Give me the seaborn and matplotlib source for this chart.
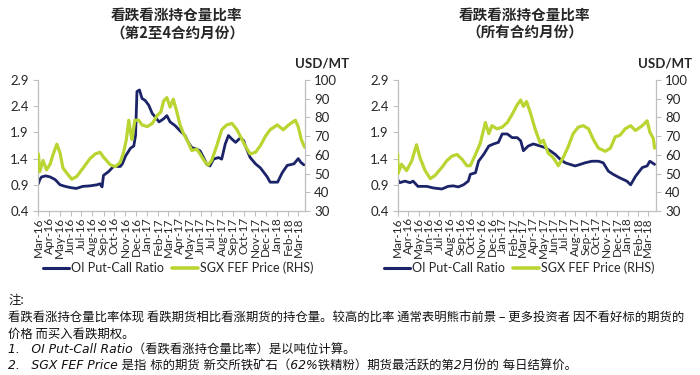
import matplotlib
matplotlib.use("Agg")
import matplotlib.pyplot as plt
from matplotlib.lines import Line2D
import seaborn as sns
import pandas as pd

sns.set_style("white")
plt.rcParams['font.family'] = ['Lato', 'Noto Sans CJK SC', 'DejaVu Sans']

# ---------------- data ----------------
left_ratio_dates = ["2016-03-02", "2016-03-06", "2016-03-11", "2016-03-23", "2016-04-04", "2016-04-18",
                    "2016-05-02", "2016-05-16", "2016-05-29", "2016-06-16", "2016-07-05", "2016-07-25",
                    "2016-08-14", "2016-08-22", "2016-08-28", "2016-09-01", "2016-09-15", "2016-09-29",
                    "2016-10-18", "2016-10-24", "2016-11-02", "2016-11-16", "2016-11-25", "2016-11-30",
                    "2016-12-04", "2016-12-11", "2016-12-18", "2016-12-27", "2017-01-06", "2017-01-16",
                    "2017-01-25", "2017-02-04", "2017-02-17", "2017-02-26", "2017-03-07", "2017-03-21",
                    "2017-04-04", "2017-04-18", "2017-04-27", "2017-05-07", "2017-05-21", "2017-05-30",
                    "2017-06-09", "2017-06-18", "2017-06-27", "2017-07-07", "2017-07-21", "2017-07-30",
                    "2017-08-09", "2017-08-18", "2017-08-28", "2017-09-07", "2017-09-21", "2017-09-30",
                    "2017-10-04", "2017-10-18", "2017-11-02", "2017-11-16", "2017-12-05", "2017-12-13",
                    "2018-01-03", "2018-01-16", "2018-01-30", "2018-02-18", "2018-03-02", "2018-03-09",
                    "2018-03-18"]
left_ratio = [0.92, 1.00, 1.05, 1.07, 1.05, 1.00,
              0.90, 0.87, 0.85, 0.83, 0.87, 0.88,
              0.90, 0.92, 0.86, 1.08, 1.15, 1.25,
              1.25, 1.30, 1.45, 1.60, 1.64, 1.84,
              2.68, 2.71, 2.55, 2.51, 2.42, 2.26,
              2.19, 2.10, 2.16, 2.22, 2.10, 2.03,
              1.93, 1.84, 1.71, 1.61, 1.58, 1.55,
              1.42, 1.29, 1.26, 1.39, 1.42, 1.39,
              1.68, 1.84, 1.77, 1.71, 1.80, 1.74,
              1.65, 1.42, 1.30, 1.22, 1.05, 0.95,
              0.95, 1.13, 1.27, 1.30, 1.40, 1.33,
              1.28]

left_price_dates = ["2016-03-02", "2016-03-06", "2016-03-15", "2016-03-25", "2016-04-04", "2016-04-12",
                    "2016-04-23", "2016-05-02", "2016-05-10", "2016-05-24", "2016-06-04", "2016-06-18",
                    "2016-07-05", "2016-07-25", "2016-08-09", "2016-08-22", "2016-09-01", "2016-09-20",
                    "2016-10-04", "2016-10-18", "2016-10-27", "2016-11-04", "2016-11-11", "2016-11-16",
                    "2016-11-20", "2016-11-28", "2016-12-09", "2016-12-18", "2017-01-02", "2017-01-16",
                    "2017-01-30", "2017-02-09", "2017-02-17", "2017-02-26", "2017-03-07", "2017-03-16",
                    "2017-03-25", "2017-04-04", "2017-04-13", "2017-04-27", "2017-05-07", "2017-05-21",
                    "2017-05-30", "2017-06-13", "2017-06-22", "2017-07-02", "2017-07-16", "2017-07-30",
                    "2017-08-13", "2017-08-28", "2017-09-11", "2017-09-25", "2017-10-04", "2017-10-18",
                    "2017-11-02", "2017-11-16", "2017-11-30", "2017-12-13", "2018-01-02", "2018-01-19",
                    "2018-02-03", "2018-02-22", "2018-03-02", "2018-03-11", "2018-03-20"]
left_price = [60.5, 51.0, 57.0, 52.0, 55.0, 60.0,
              65.7, 61.0, 53.0, 49.5, 47.0, 48.5,
              52.8, 58.0, 60.5, 61.4, 58.8, 54.7,
              53.7, 56.0, 61.0, 68.0, 78.5, 72.0,
              68.2, 78.5, 78.5, 76.0, 75.1, 76.8,
              81.1, 82.9, 88.8, 90.6, 85.5, 89.7,
              83.7, 76.0, 71.7, 66.6, 62.3, 63.1,
              60.5, 56.2, 54.5, 57.1, 64.8, 73.4,
              76.0, 76.8, 73.4, 68.2, 64.8, 60.5,
              61.4, 65.0, 70.0, 73.4, 76.0, 73.4,
              76.0, 78.5, 75.0, 68.0, 64.0]

right_ratio_dates = ["2016-03-01", "2016-03-07", "2016-03-22", "2016-04-06", "2016-04-15", "2016-04-29",
                     "2016-05-25", "2016-06-13", "2016-07-08", "2016-07-26", "2016-08-10", "2016-08-25",
                     "2016-09-09", "2016-09-23", "2016-09-29", "2016-10-14", "2016-10-23", "2016-11-07",
                     "2016-11-22", "2016-12-06", "2016-12-20", "2016-12-31", "2017-01-15", "2017-01-29",
                     "2017-02-13", "2017-02-23", "2017-03-03", "2017-03-17", "2017-04-01", "2017-04-21",
                     "2017-05-05", "2017-05-20", "2017-06-04", "2017-06-18", "2017-07-03", "2017-07-17",
                     "2017-08-01", "2017-08-16", "2017-08-30", "2017-09-19", "2017-10-08", "2017-10-22",
                     "2017-11-06", "2017-11-20", "2017-12-10", "2017-12-30", "2018-01-10", "2018-01-24",
                     "2018-02-13", "2018-02-27", "2018-03-07", "2018-03-21"]
right_ratio = [1.00, 0.94, 0.97, 0.94, 0.97, 0.87,
               0.87, 0.84, 0.82, 0.87, 0.88, 0.86,
               0.90, 0.97, 1.10, 1.13, 1.35, 1.48,
               1.64, 1.68, 1.71, 1.87, 1.87, 1.80,
               1.80, 1.74, 1.55, 1.64, 1.68, 1.64,
               1.61, 1.55, 1.48, 1.39, 1.32, 1.29,
               1.26, 1.29, 1.32, 1.35, 1.35, 1.32,
               1.16, 1.10, 1.03, 0.97, 0.90, 1.06,
               1.23, 1.26, 1.35, 1.29]

right_price_dates = ["2016-03-01", "2016-03-02", "2016-03-12", "2016-03-27", "2016-04-11", "2016-04-25",
                     "2016-05-05", "2016-05-20", "2016-06-04", "2016-06-18", "2016-07-08", "2016-07-22",
                     "2016-08-06", "2016-08-21", "2016-09-05", "2016-09-19", "2016-09-29", "2016-10-14",
                     "2016-10-28", "2016-11-12", "2016-11-22", "2016-12-01", "2016-12-16", "2016-12-31",
                     "2017-01-15", "2017-01-29", "2017-02-13", "2017-02-23", "2017-03-03", "2017-03-12",
                     "2017-03-22", "2017-04-06", "2017-04-21", "2017-04-30", "2017-05-14", "2017-05-29",
                     "2017-06-13", "2017-06-27", "2017-07-12", "2017-07-26", "2017-08-10", "2017-08-25",
                     "2017-09-09", "2017-09-24", "2017-10-08", "2017-10-28", "2017-11-12", "2017-11-26",
                     "2017-12-10", "2017-12-25", "2018-01-10", "2018-01-24", "2018-02-13", "2018-02-27",
                     "2018-03-07", "2018-03-17", "2018-03-21"]
right_price = [60.2, 50.0, 55.0, 51.6, 56.8, 65.4,
               58.5, 51.6, 47.3, 49.0, 53.3, 56.8,
               59.3, 60.2, 57.6, 54.2, 54.2, 60.2,
               66.2, 77.3, 71.3, 75.6, 73.9, 74.8,
               77.3, 81.6, 86.8, 89.3, 85.9, 88.5,
               83.3, 73.9, 66.2, 67.9, 61.0, 58.5,
               54.2, 58.5, 64.5, 71.3, 74.8, 75.6,
               73.9, 67.9, 63.6, 61.9, 63.6, 69.6,
               70.5, 73.9, 75.6, 73.0, 75.6, 78.2,
               72.2, 68.8, 63.6]

ratio_ticks = [0.4, 0.9, 1.4, 1.9, 2.4, 2.9]
price_ticks = [30, 40, 50, 60, 70, 80, 90, 100]
month_ticks = pd.date_range("2016-03-01", "2018-03-01", freq="MS")
month_labels = [d.strftime("%b-%y") for d in month_ticks]

title_line1 = "看跌看涨持仓量比率"
left_title_line2 = "（第2至4合约月份）"
right_title_line2 = "（所有合约月份）"
ratio_name = "OI Put-Call Ratio"
price_name = "SGX FEF Price (RHS)"

BLUE = "#1b2468"
GREEN = "#b8d532"
GRAY = "#bfbfbf"
TXT = "#262626"
W, H = 700, 375


def fx(px):
    return px / W


def fy(py):
    return 1 - py / H


fig = plt.figure(figsize=(7, 3.75), dpi=100)
fig.patch.set_facecolor("white")


def panel(x0, x1, xend, rdates, rvals, pdates, pvals, line2, title_x, usd_x, leg_x):
    ax = fig.add_axes([fx(x0), fy(211), (x1 - x0) / W, 131 / H])
    ax2 = ax.twinx()
    dfr = pd.DataFrame({"date": pd.to_datetime(rdates), "v": rvals})
    dfp = pd.DataFrame({"date": pd.to_datetime(pdates), "v": pvals})
    sns.lineplot(data=dfr, x="date", y="v", ax=ax, color=BLUE, linewidth=2.0)
    sns.lineplot(data=dfp, x="date", y="v", ax=ax2, color=GREEN, linewidth=2.3)
    ax.set_ylim(0.4, 2.9)
    ax2.set_ylim(30, 100)
    ax.set_xlim(pd.Timestamp("2016-03-01"), pd.Timestamp(xend))
    ax.set_yticks(ratio_ticks)
    ax.set_yticklabels([f"{t:.1f}" for t in ratio_ticks])
    ax2.set_yticks(price_ticks)
    ax2.set_yticklabels([str(t) for t in price_ticks])
    ax.set_xticks(month_ticks)
    ax.set_xticklabels(month_labels, rotation=90, ha="center", va="top")
    for a in (ax, ax2):
        a.set_xlabel("")
        a.set_ylabel("")
        for s in a.spines.values():
            s.set_visible(False)
            s.set_color(GRAY)
            s.set_linewidth(0.9)
    ax.spines["left"].set_visible(True)
    ax.spines["bottom"].set_visible(True)
    ax2.spines["right"].set_visible(True)
    ax.tick_params(axis="x", bottom=True, direction="out", length=3.5, width=0.8,
                   color=GRAY, labelsize=8.5, labelcolor=TXT, pad=1)
    ax.tick_params(axis="y", left=True, direction="out", length=3.5, width=0.8,
                   color=GRAY, labelsize=9.5, labelcolor=TXT, pad=3)
    ax2.tick_params(axis="y", right=True, direction="out", length=3.5, width=0.8,
                    color=GRAY, labelsize=9.5, labelcolor=TXT, pad=3)

    fig.text(fx(title_x), fy(15), title_line1, ha="center", va="center", fontsize=10.5,
             fontweight="bold", color=TXT, family=["Noto Sans CJK SC", "DejaVu Sans"])
    fig.text(fx(title_x), fy(33), line2, ha="center", va="center", fontsize=10.5,
             fontweight="bold", color=TXT, family=["Noto Sans CJK SC", "DejaVu Sans"])
    fig.text(fx(usd_x), fy(63), "USD/MT", ha="center", va="center", fontsize=9.5,
             fontweight="bold", color=TXT)

    ly = fy(268)
    fig.add_artist(Line2D([fx(leg_x), fx(leg_x + 26)], [ly, ly], color=BLUE, linewidth=2.2))
    fig.text(fx(leg_x + 28), ly, ratio_name, ha="left", va="center", fontsize=9, color=TXT)
    gx = leg_x + 129
    fig.add_artist(Line2D([fx(gx), fx(gx + 26)], [ly, ly], color=GREEN, linewidth=2.6))
    fig.text(fx(gx + 28), ly, price_name, ha="left", va="center", fontsize=9, color=TXT)


panel(38, 305, "2018-03-21", left_ratio_dates, left_ratio, left_price_dates, left_price,
      left_title_line2, 177, 322, 43)
panel(397.7, 656, "2018-03-25", right_ratio_dates, right_ratio, right_price_dates, right_price,
      right_title_line2, 525, 665, 384)

cjk = ["Noto Sans CJK SC", "DejaVu Sans"]
ital = ["DejaVu Sans", "Noto Sans CJK SC"]
NOTE = 8.9
fig.text(fx(8), fy(300), "注:", ha="left", va="center", fontsize=NOTE, style="italic",
         color="#111111", family=cjk)
fig.text(fx(8), fy(318), "看跌看涨持仓量比率体现 看跌期货相比看涨期货的持仓量。较高的比率 通常表明熊市前景 – 更多投资者 因不看好标的期货的",
         ha="left", va="center", fontsize=NOTE, color="#111111", family=cjk)
fig.text(fx(8), fy(334), "价格 而买入看跌期权。", ha="left", va="center", fontsize=NOTE,
         color="#111111", family=cjk)
fig.text(fx(8), fy(350), "1.   OI Put-Call Ratio（看跌看涨持仓量比率）是以吨位计算。", ha="left",
         va="center", fontsize=NOTE, style="italic", color="#111111", family=ital)
fig.text(fx(8), fy(366), "2.   SGX FEF Price 是指 标的期货 新交所铁矿石（62%铁精粉）期货最活跃的第2月份的 每日结算价。",
         ha="left", va="center", fontsize=NOTE, style="italic", color="#111111", family=ital)

fig.savefig("out.png", dpi=100, facecolor="white")
